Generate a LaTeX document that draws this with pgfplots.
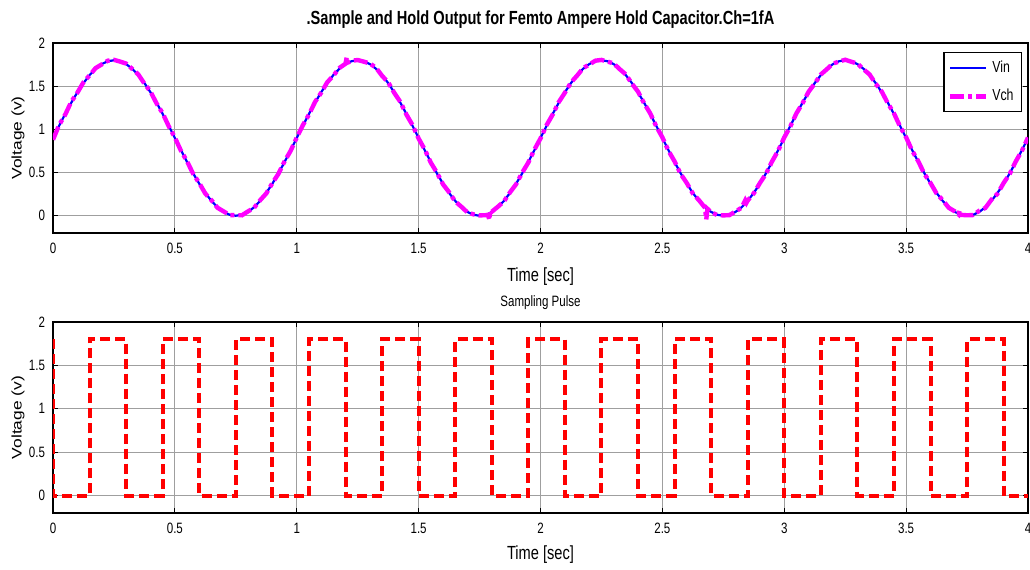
\documentclass[border=0pt]{standalone}
\usepackage{fontspec}
\setmainfont{Liberation Sans}[FakeStretch=0.77]
\newfontfamily\ylabfont{Liberation Sans}
\usepackage{graphicx}
\usepackage{pgfplots}
\pgfplotsset{compat=1.18}
\usepackage{pgfplotstable}
\definecolor{mlblue}{RGB}{0,0,255}
\definecolor{mlmag}{RGB}{255,0,255}
\definecolor{mlred}{RGB}{255,0,0}

% t, input sine, held output
\pgfplotstableread{
t vin vch
0.000 0.900 0.880
0.025 1.041 1.050
0.050 1.178 1.170
0.075 1.309 1.320
0.100 1.429 1.425
0.125 1.536 1.545
0.150 1.628 1.625
0.175 1.702 1.710
0.200 1.756 1.752
0.225 1.789 1.795
0.250 1.800 1.805
0.275 1.789 1.785
0.300 1.756 1.762
0.325 1.702 1.700
0.350 1.628 1.636
0.375 1.536 1.530
0.400 1.429 1.437
0.425 1.309 1.300
0.450 1.178 1.186
0.475 1.041 1.035
0.500 0.900 0.905
0.525 0.759 0.752
0.550 0.622 0.630
0.575 0.491 0.485
0.600 0.371 0.378
0.625 0.264 0.256
0.650 0.172 0.180
0.675 0.098 0.092
0.700 0.044 0.050
0.725 0.011 0.008
0.750 0.000 0.006
0.775 0.011 0.005
0.800 0.044 0.050
0.825 0.098 0.092
0.850 0.172 0.180
0.875 0.264 0.258
0.900 0.371 0.378
0.925 0.491 0.486
0.950 0.622 0.630
0.975 0.759 0.752
1.000 0.900 0.905
1.025 1.041 1.048
1.050 1.178 1.171
1.075 1.309 1.317
1.100 1.429 1.423
1.125 1.536 1.545
1.150 1.628 1.621
1.175 1.702 1.711
1.200 1.756 1.760
1.205 1.764 1.835
1.210 1.772 1.775
1.225 1.789 1.794
1.250 1.800 1.803
1.275 1.789 1.784
1.300 1.756 1.763
1.325 1.702 1.714
1.350 1.628 1.620
1.375 1.536 1.545
1.400 1.429 1.423
1.425 1.309 1.318
1.450 1.178 1.171
1.475 1.041 1.049
1.500 0.900 0.894
1.525 0.759 0.767
1.550 0.622 0.615
1.575 0.491 0.499
1.600 0.371 0.364
1.625 0.264 0.272
1.650 0.172 0.166
1.675 0.098 0.105
1.700 0.044 0.039
1.725 0.011 0.016
1.750 0.000 0.004
1.775 0.011 0.006
1.785 0.018 0.012
1.790 0.028 -0.050
1.795 0.036 0.065
1.800 0.044 0.046
1.825 0.098 0.104
1.850 0.172 0.166
1.875 0.264 0.271
1.900 0.371 0.365
1.925 0.491 0.499
1.950 0.622 0.616
1.975 0.759 0.766
2.000 0.900 0.895
2.025 1.041 1.049
2.050 1.178 1.172
2.075 1.309 1.316
2.100 1.429 1.424
2.125 1.536 1.543
2.150 1.628 1.622
2.175 1.702 1.709
2.200 1.756 1.751
2.225 1.789 1.795
2.250 1.800 1.804
2.275 1.789 1.785
2.300 1.756 1.763
2.325 1.702 1.697
2.350 1.628 1.636
2.375 1.536 1.529
2.400 1.429 1.437
2.425 1.309 1.302
2.450 1.178 1.186
2.475 1.041 1.034
2.500 0.900 0.907
2.525 0.759 0.752
2.550 0.622 0.629
2.575 0.491 0.484
2.600 0.371 0.379
2.625 0.264 0.257
2.650 0.172 0.180
2.675 0.098 0.092
2.680 0.086 -0.045
2.685 0.074 0.080
2.700 0.044 0.040
2.725 0.011 0.008
2.750 0.000 0.004
2.775 0.011 0.007
2.800 0.044 0.049
2.825 0.098 0.093
2.840 0.140 0.178
2.845 0.156 0.150
2.850 0.172 0.176
2.875 0.264 0.259
2.900 0.371 0.378
2.925 0.491 0.485
2.950 0.622 0.629
2.975 0.759 0.753
3.000 0.900 0.907
3.025 1.041 1.034
3.050 1.178 1.186
3.075 1.309 1.302
3.100 1.429 1.436
3.125 1.536 1.530
3.150 1.628 1.635
3.175 1.702 1.697
3.200 1.756 1.762
3.225 1.789 1.785
3.250 1.800 1.806
3.275 1.789 1.783
3.300 1.756 1.762
3.325 1.702 1.696
3.350 1.628 1.636
3.375 1.536 1.529
3.400 1.429 1.437
3.425 1.309 1.302
3.450 1.178 1.186
3.475 1.041 1.034
3.500 0.900 0.908
3.525 0.759 0.752
3.550 0.622 0.630
3.575 0.491 0.484
3.600 0.371 0.379
3.625 0.264 0.257
3.650 0.172 0.180
3.675 0.098 0.092
3.700 0.044 0.050
3.715 0.022 0.015
3.720 0.016 0.065
3.725 0.011 0.010
3.750 0.000 0.005
3.775 0.011 0.008
3.800 0.044 0.058
3.825 0.098 0.090
3.850 0.172 0.186
3.875 0.264 0.256
3.900 0.371 0.379
3.925 0.491 0.484
3.950 0.622 0.630
3.975 0.759 0.752
4.000 0.900 0.905
}\sinetable

\begin{document}
\begin{tikzpicture}
\pgfplotsset{
  panel/.style={
    scale only axis, width=487.5pt,
    xmin=0, xmax=4, ymin=-0.2, ymax=2,
    xtick={0,0.5,1,1.5,2,2.5,3,3.5,4},
    ytick={0,0.5,1,1.5,2},
    grid=major,
    major grid style={gray!75, line width=0.5pt},
    tick align=inside, major tick length=2.5pt,
    tick style={black, line width=0.6pt},
    axis line style={black, line width=0.9pt},
    /pgf/number format/assume math mode=true,
    ticklabel style={font=\fontsize{7.5}{9}\selectfont},
    xticklabel style={yshift=-1.5pt},
    yticklabel style={xshift=-0.5pt},
    xlabel={Time [sec]},
    xlabel style={font=\fontsize{9.5}{11}\selectfont, at={(axis description cs:0.5,0)}, anchor=center, yshift=-22pt},
    ylabel={\ylabfont\fontsize{8.7}{10}\selectfont\scalebox{1}[0.8]{Voltage (v)}},
    ylabel style={at={(axis description cs:0,0.5)}, anchor=center, yshift=17.5pt},
  }
}

\begin{axis}[panel, at={(26.5pt,168pt)}, anchor=south west, height=95pt,
  title={\bfseries .Sample and Hold Output for Femto Ampere Hold Capacitor.Ch=1fA},
  title style={font=\fontsize{9.5}{11}\selectfont, at={(axis description cs:0.5,1)}, anchor=center, yshift=5.5pt},
  legend style={at={(rel axis cs:0.994,0.953)}, anchor=north east, draw=black, line width=0.6pt,
    font=\fontsize{8}{9}\selectfont, row sep=3pt, inner xsep=2pt, inner ysep=2pt},
  legend cell align=left,
  legend image code/.code={\draw[#1] (0pt,0pt) -- (18pt,0pt);},
]
\addplot[mlblue, line width=1.1pt] table[x=t, y=vin] {\sinetable};
\addlegendentry{Vin}
\addplot[mlmag, line width=2.2pt, dash pattern=on 7pt off 2pt on 2pt off 2pt] table[x=t, y=vch] {\sinetable};
\addlegendentry{Vch}
\end{axis}

\begin{axis}[panel, at={(26.5pt,28pt)}, anchor=south west, height=95.5pt,
  title={Sampling Pulse},
  title style={font=\fontsize{7.5}{9}\selectfont, at={(axis description cs:0.5,1)}, anchor=center, yshift=3.5pt},
  xlabel style={yshift=1pt},
]
\addplot[mlred, line width=2pt, dash pattern=on 5pt off 2.5pt] coordinates {
(0,1.8)(0,0)(0.15,0)(0.15,1.8)(0.3,1.8)(0.3,0)(0.45,0)(0.45,1.8)(0.6,1.8)(0.6,0)
(0.75,0)(0.75,1.8)(0.9,1.8)(0.9,0)(1.05,0)(1.05,1.8)(1.2,1.8)(1.2,0)
(1.35,0)(1.35,1.8)(1.5,1.8)(1.5,0)(1.65,0)(1.65,1.8)(1.8,1.8)(1.8,0)
(1.95,0)(1.95,1.8)(2.1,1.8)(2.1,0)(2.25,0)(2.25,1.8)(2.4,1.8)(2.4,0)
(2.55,0)(2.55,1.8)(2.7,1.8)(2.7,0)(2.85,0)(2.85,1.8)(3.0,1.8)(3.0,0)
(3.15,0)(3.15,1.8)(3.3,1.8)(3.3,0)(3.45,0)(3.45,1.8)(3.6,1.8)(3.6,0)
(3.75,0)(3.75,1.8)(3.9,1.8)(3.9,0)(4,0)
};
\end{axis}

\pgfresetboundingbox
\path[use as bounding box] (0,0) rectangle (515pt,284.5pt);
\end{tikzpicture}
\end{document}
